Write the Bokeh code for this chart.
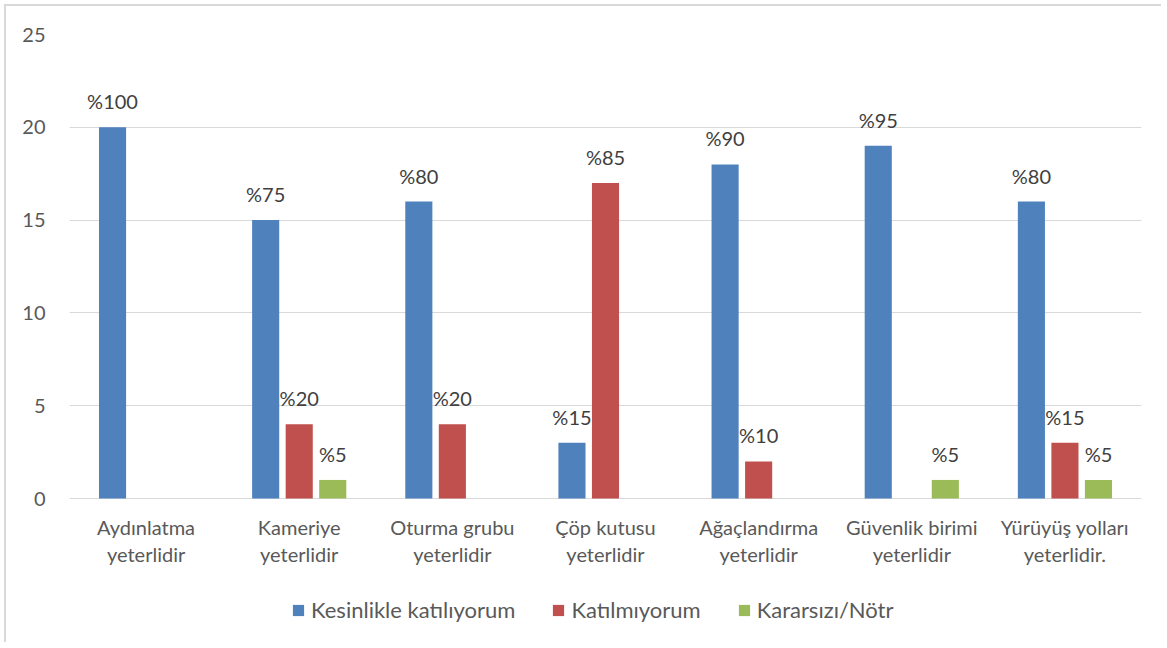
from bokeh.plotting import figure
from bokeh.models import ColumnDataSource, FactorRange, Range1d, Legend, LegendItem, FixedTicker
from bokeh.transform import dodge
from bokeh.core.properties import value
from bokeh.embed import file_html
from bokeh.resources import INLINE

categories = ["Aydınlatma\nyeterlidir", "Kameriye\nyeterlidir", "Oturma grubu\nyeterlidir",
              "Çöp kutusu\nyeterlidir", "Ağaçlandırma\nyeterlidir", "Güvenlik birimi\nyeterlidir",
              "Yürüyüş yolları\nyeterlidir."]
kesinlikle = [20, 15, 16, 3, 18, 19, 16]
katilmiyorum = [0, 4, 4, 17, 2, 0, 3]
kararsiz = [0, 1, 0, 0, 0, 1, 1]
kesinlikle_lbl = ["%100", "%75", "%80", "%15", "%90", "%95", "%80"]
katilmiyorum_lbl = ["", "%20", "%20", "%85", "%10", "", "%15"]
kararsiz_lbl = ["", "%5", "", "", "", "%5", "%5"]
series_names = ["Kesinlikle katılıyorum", "Katılmıyorum", "Kararsızı/Nötr"]
colors = ["#4F81BD", "#C0504D", "#9BBB59"]
y_ticks = [0, 5, 10, 15, 20, 25]

FONT = "Lato"
TXT = "#595959"

src = ColumnDataSource(dict(cat=categories, a=kesinlikle, b=katilmiyorum, c=kararsiz,
                            la=kesinlikle_lbl, lb=katilmiyorum_lbl, lc=kararsiz_lbl))

# frame extends below the zero line to hold category labels and legend
Y_MAX = 25
PLOT_PX = 464
EXTRA_PX = 144
p = figure(frame_width=1072, frame_height=PLOT_PX + EXTRA_PX,
           x_range=FactorRange(factors=categories, range_padding=0),
           y_range=Range1d(-EXTRA_PX * Y_MAX / PLOT_PX, Y_MAX),
           output_backend="svg", toolbar_location=None,
           min_border_left=63, min_border_right=20, min_border_top=28, min_border_bottom=0)
p.styles = {"border-top": "2px solid #d9d9d9", "border-left": "2px solid #d9d9d9",
            "margin-left": "4px", "margin-top": "4px"}
p.outline_line_color = None
p.background_fill_color = "white"
p.border_fill_color = "white"

offsets = [-0.219, 0.0, 0.219]
cols = ["a", "b", "c"]
lcols = ["la", "lb", "lc"]
renderers = []
for off, col, lc, color in zip(offsets, cols, lcols, colors):
    r = p.vbar(x=dodge("cat", off, range=p.x_range), top=col, width=0.177, source=src,
               fill_color=color, line_color=None)
    renderers.append(r)
    p.text(x=dodge("cat", off, range=p.x_range), y=col, text=lc, source=src,
           text_align="center", text_baseline="bottom", y_offset=-14,
           text_font=value(FONT), text_font_size="20px", text_color="#404040")

# category labels below the zero line
p.text(x="cat", y=0, text="cat", source=src, text_align="center", text_baseline="top",
       y_offset=16, text_font=value(FONT), text_font_size="20px", text_color=TXT,
       text_line_height=1.15)

p.ygrid.grid_line_color = "#d9d9d9"
p.ygrid.grid_line_width = 1
p.ygrid.ticker = FixedTicker(ticks=y_ticks)
p.xgrid.grid_line_color = None
p.yaxis.ticker = FixedTicker(ticks=y_ticks)
p.yaxis.axis_line_color = None
p.yaxis.major_tick_line_color = None
p.yaxis.minor_tick_line_color = None
p.yaxis.major_label_text_font = FONT
p.yaxis.major_label_text_font_size = "20px"
p.yaxis.major_label_text_color = TXT
p.yaxis.major_label_standoff = 18
p.xaxis.visible = False

legend = Legend(items=[LegendItem(label=n, renderers=[r]) for n, r in zip(series_names, renderers)],
                orientation="horizontal", location=(222, 19),
                label_text_font=FONT, label_text_font_size="22px", label_text_color=TXT,
                glyph_width=14, glyph_height=14, spacing=36, border_line_color=None,
                background_fill_alpha=0, margin=0, padding=0, label_standoff=6)
p.add_layout(legend, "center")

open("out.html", "w").write(file_html(p, INLINE))
